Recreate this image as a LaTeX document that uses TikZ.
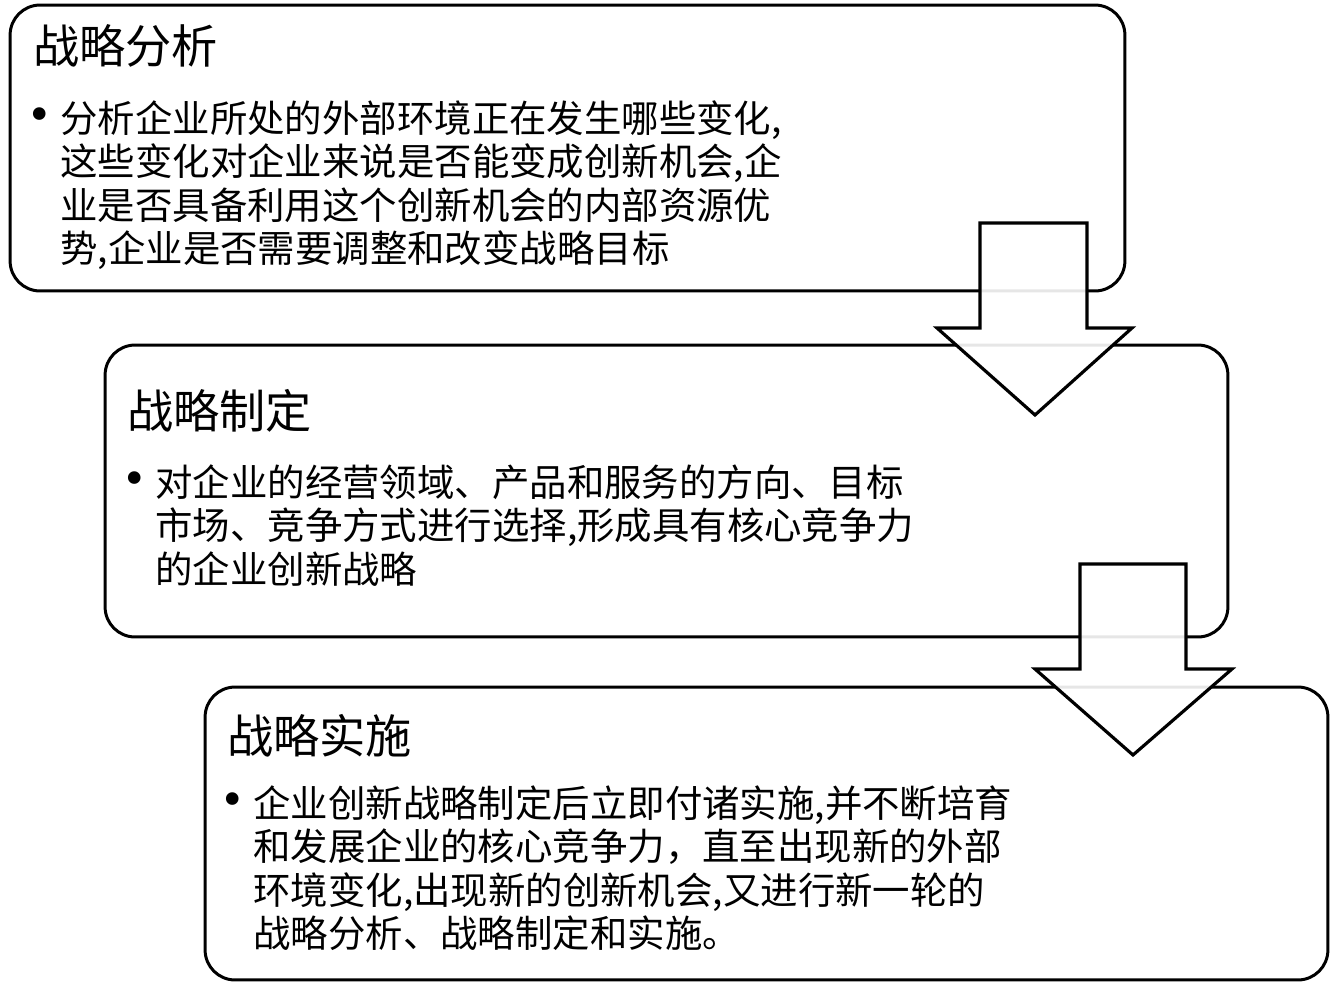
\documentclass[tikz,border=0pt]{standalone}
\usepackage{fontspec}
\setmainfont{Liberation Serif}
\newfontfamily\cjk{Noto Sans CJK SC}
\usetikzlibrary{positioning}

\begin{document}
\begin{tikzpicture}[x=0.02cm, y=-0.02cm,
  stage/.style={draw, line width=1.7pt, rounded corners=0.6cm, inner sep=0pt},
  heading/.style={anchor=west, inner sep=0pt, font=\cjk\fontsize{26.3}{30}\selectfont},
  detail/.style={anchor=north west, align=left, inner sep=0pt, font=\cjk\fontsize{21.3}{24.8}\selectfont},
  dot/.style={inner sep=0pt, font=\fontsize{30}{30}\selectfont},
  blockarrow/.style={draw, line width=1.8pt, fill=white, fill opacity=0.9, line join=miter}]

\useasboundingbox (0,0) rectangle (1330,985);

% Stage boxes
\node[stage, minimum width=22.3cm, minimum height=5.72cm] (analysis) at (567.5,148) {};
\node[stage, minimum width=22.46cm, minimum height=5.84cm] (formulation) at (666.5,491) {};
\node[stage, minimum width=22.46cm, minimum height=5.86cm] (implementation) at (766.5,833.5) {};

% Stage 1
\node[heading] (analysisTitle) at (33,46) {战略分析};
\node[dot] (analysisDot) at (40,120) {\textbullet};
\node[detail] (analysisText) at (60,100)
    {分析企业所处的外部环境正在发生哪些变化,\\这些变化对企业来说是否能变成创新机会,企\\业是否具备利用这个创新机会的内部资源优\\势,企业是否需要调整和改变战略目标};

% Stage 2
\node[heading] (formulationTitle) at (127,411) {战略制定};
\node[dot] (formulationDot) at (135,484) {\textbullet};
\node[detail] (formulationText) at (155,464)
    {对企业的经营领域、产品和服务的方向、目标\\市场、竞争方式进行选择,形成具有核心竞争力\\的企业创新战略};

% Stage 3
\node[heading] (implementationTitle) at (227,736) {战略实施};
\node[dot] (implementationDot) at (233,805) {\textbullet};
\node[detail] (implementationText) at (253,785)
    {企业创新战略制定后立即付诸实施,并不断培育\\和发展企业的核心竞争力，直至出现新的外部\\环境变化,出现新的创新机会,又进行新一轮的\\战略分析、战略制定和实施。};

% Block arrows
\draw[blockarrow] (980,223) -- (1087,223) -- (1087,328) -- (1132,328) -- (1035,415)
    -- (937,328) -- (980,328) -- cycle;
\draw[blockarrow] (1080,564) -- (1186,564) -- (1186,669) -- (1232,669) -- (1133,755)
    -- (1035,669) -- (1080,669) -- cycle;

\end{tikzpicture}
\end{document}
